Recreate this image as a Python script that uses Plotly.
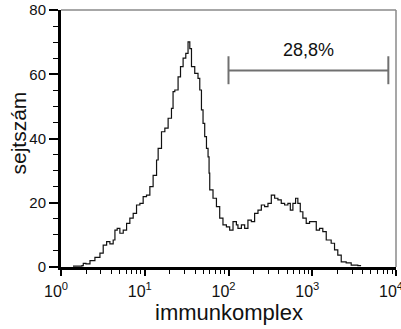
import numpy as np
import plotly.graph_objects as go

# Histogram of immune-complex fluorescence (log10 of channel intensity) and cell counts
log_intensity = [
    0.143, 0.203, 0.250, 0.266, 0.298, 0.346, 0.405, 0.465, 0.504, 0.545,
    0.584, 0.623, 0.644, 0.671, 0.703, 0.743, 0.783, 0.822, 0.862, 0.902,
    0.942, 0.981, 1.021, 1.061, 1.100, 1.141, 1.160, 1.200, 1.240, 1.279,
    1.319, 1.338, 1.359, 1.398, 1.427, 1.458, 1.490, 1.517, 1.538, 1.558,
    1.597, 1.636, 1.657, 1.677, 1.696, 1.716, 1.737, 1.756, 1.768, 1.776,
    1.815, 1.856, 1.895, 1.934, 1.975, 2.014, 2.054, 2.094, 2.113, 2.154,
    2.193, 2.232, 2.273, 2.312, 2.352, 2.392, 2.431, 2.471, 2.511, 2.551,
    2.590, 2.630, 2.670, 2.709, 2.738, 2.769, 2.801, 2.828, 2.857, 2.888,
    2.928, 2.968, 3.007, 3.048, 3.087, 3.126, 3.167, 3.226, 3.266, 3.305,
    3.346, 3.405, 3.465, 3.544, 3.576,
]
cell_count = [
    0.3, 0.3, 0.4, 1.1, 1.0, 2.0, 3.0, 4.3, 6.8, 7.9,
    7.2, 8.4, 11.5, 12.0, 10.5, 11.5, 13.6, 15.2, 16.7, 19.3,
    19.8, 21.9, 22.4, 25.0, 28.5, 33.3, 36.9, 42.1, 43.2, 46.3,
    49.4, 54.6, 55.1, 59.2, 62.4, 65.0, 66.5, 70.1, 68.0, 62.4,
    60.3, 58.7, 55.1, 48.9, 44.7, 40.6, 36.9, 34.3, 29.2, 24.0,
    21.4, 18.8, 15.2, 13.1, 12.5, 11.5, 14.1, 13.1, 12.0, 13.1,
    12.0, 14.6, 14.1, 16.7, 17.7, 19.3, 18.8, 19.8, 22.4, 21.4,
    20.9, 19.8, 19.3, 19.8, 17.7, 19.8, 21.4, 19.8, 17.2, 15.2,
    13.6, 14.1, 14.1, 11.5, 12.0, 11.0, 8.4, 7.4, 5.3, 3.7,
    1.6, 1.3, 0.6, 0.4, 0.2,
]

# Positive gate and its share of cells
gate_low = 100
gate_high = 8100
gate_level = 61.2
gate_label = "28,8%"

x_tick_vals = [1, 10, 100, 1000, 10000]
x_tick_text = ["10<sup>0</sup>", "10<sup>1</sup>", "10<sup>2</sup>", "10<sup>3</sup>", "10<sup>4</sup>"]
y_tick_vals = [0, 20, 40, 60, 80]

FONT = "Liberation Sans, Arial, Helvetica, sans-serif"
TEXT = "#111111"

fig = go.Figure()
fig.add_trace(go.Scatter(
    x=10 ** np.array(log_intensity),
    y=cell_count,
    mode="lines",
    line=dict(color="#111111", width=1.2, shape="hv"),
    hoverinfo="skip",
    showlegend=False,
))

# Gate bracket
gate_mid = 10 ** ((np.log10(gate_low) + np.log10(gate_high)) / 2)
bracket = dict(type="line", xref="x", yref="y", line=dict(color="#707070", width=2))
fig.add_shape(x0=gate_low, x1=gate_high, y0=gate_level, y1=gate_level, **bracket)
fig.add_shape(x0=gate_low, x1=gate_low, y0=gate_level - 4.3, y1=gate_level + 4.4, **bracket)
fig.add_shape(x0=gate_high, x1=gate_high, y0=gate_level - 4.3, y1=gate_level + 4.4, **bracket)
fig.add_annotation(
    x=np.log10(gate_mid), y=gate_level + 6.2, text=gate_label, showarrow=False,
    font=dict(family=FONT, size=18, color=TEXT), xanchor="center", yanchor="middle",
)

# Axis titles
fig.add_annotation(
    xref="paper", yref="paper", x=0.5, y=0, xanchor="center", yanchor="middle",
    yshift=-45, text="immunkomplex", showarrow=False,
    font=dict(family=FONT, size=22, color=TEXT),
)
fig.add_annotation(
    xref="paper", yref="paper", x=0, y=0.5, xanchor="center", yanchor="middle",
    xshift=-43, yshift=5, textangle=-90, text="sejtszám", showarrow=False,
    font=dict(family=FONT, size=21, color=TEXT),
)

# Thin grey frame on the top and right
frame = dict(type="line", xref="paper", yref="paper", line=dict(color="#8a8a8a", width=1.5))
fig.add_shape(x0=0, x1=1, y0=1, y1=1, **frame)
fig.add_shape(x0=1, x1=1, y0=0, y1=1, **frame)

fig.update_layout(
    width=401, height=329,
    margin=dict(l=61, r=5, t=10, b=62),
    paper_bgcolor="white", plot_bgcolor="white",
    font=dict(family=FONT, size=15, color=TEXT),
    xaxis=dict(
        type="log", range=[0, 4], automargin=False,
        tickvals=x_tick_vals, ticktext=x_tick_text,
        ticks="outside", ticklen=6, tickwidth=1.5, tickcolor="black",
        minor=dict(ticks="outside", ticklen=4, tickwidth=1.2, tickcolor="black", dtick="D1", showgrid=False),
        showline=True, linecolor="black", linewidth=3,
        showgrid=False, zeroline=False,
        tickfont=dict(size=16, color=TEXT),
        ticklabelshift=-5, ticklabelstandoff=2, ticklabeloverflow="allow",
    ),
    yaxis=dict(
        range=[0, 80], automargin=False,
        tickvals=y_tick_vals,
        ticks="outside", ticklen=9, tickwidth=1.5, tickcolor="black",
        minor=dict(ticks="outside", ticklen=5, tickwidth=1.2, tickcolor="black", dtick=5, showgrid=False),
        showline=True, linecolor="black", linewidth=3,
        showgrid=False, zeroline=False,
        tickfont=dict(size=15, color=TEXT),
        ticklabeloverflow="allow",
    ),
)

fig.write_html("out.html")
